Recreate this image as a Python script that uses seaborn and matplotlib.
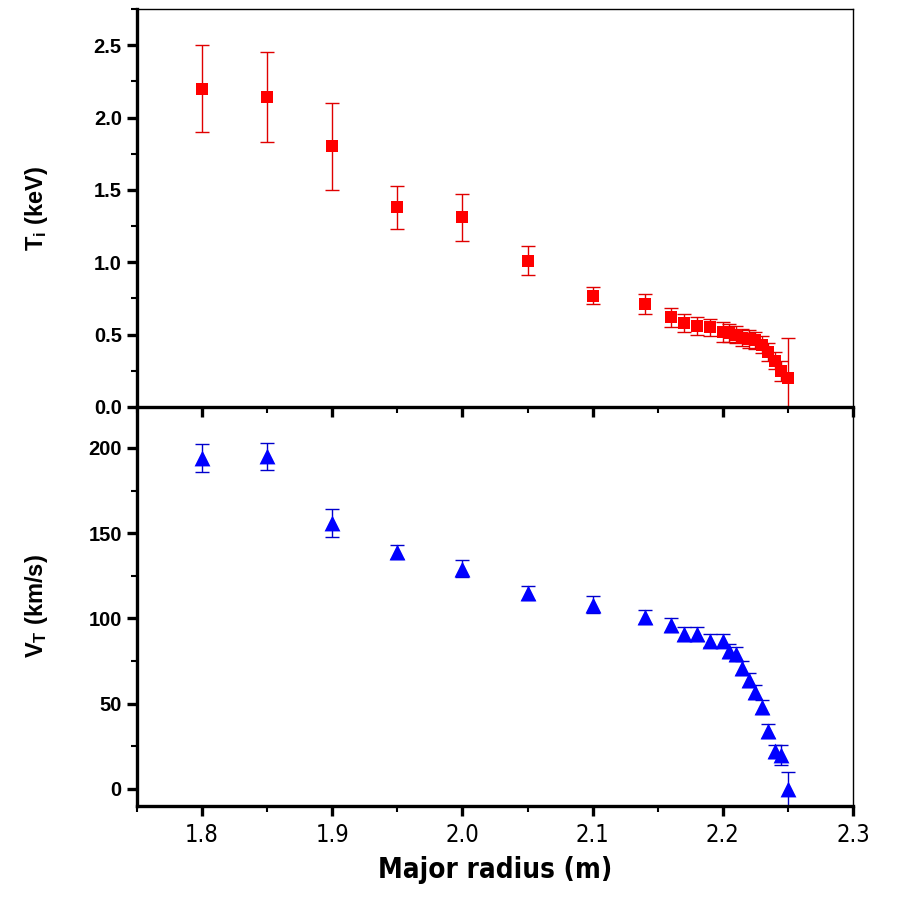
import numpy as np
import matplotlib
matplotlib.use('Agg')
import matplotlib.pyplot as plt
import seaborn as sns
from matplotlib import font_manager
from matplotlib.ticker import MultipleLocator

# major radius positions (m), shared by both panels
radius = [1.80, 1.85, 1.90, 1.95, 2.00, 2.05, 2.10, 2.14, 2.16, 2.17, 2.18, 2.19,
          2.20, 2.205, 2.21, 2.215, 2.22, 2.225, 2.23, 2.235, 2.24, 2.245, 2.25]

# ion temperature (keV) and its error
ti = [2.20, 2.14, 1.80, 1.38, 1.31, 1.01, 0.77, 0.71, 0.62, 0.58, 0.56, 0.55,
      0.52, 0.51, 0.50, 0.48, 0.47, 0.46, 0.43, 0.38, 0.32, 0.25, 0.20]
ti_err = [0.30, 0.31, 0.30, 0.15, 0.16, 0.10, 0.06, 0.07, 0.065, 0.06, 0.06, 0.06,
          0.07, 0.06, 0.06, 0.06, 0.06, 0.06, 0.06, 0.06, 0.06, 0.07, 0.28]

# toroidal velocity (km/s) and its error
vt = [194, 195, 156, 139, 129, 115, 108, 101, 96, 91, 91, 87,
      87, 81, 79, 71, 64, 57, 48, 34, 22, 20, 0]
vt_err = [8, 8, 8, 4, 5, 4, 5, 4, 4, 4, 4, 4,
          4, 4, 4, 4, 4, 4, 4, 4, 4, 6, 10]

sns.set_theme(style='ticks')
plt.rcParams['font.family'] = ['Liberation Sans', 'DejaVu Sans']
plt.rcParams['mathtext.fontset'] = 'custom'
plt.rcParams['mathtext.bf'] = 'Liberation Sans:bold'
plt.rcParams['mathtext.rm'] = 'Liberation Sans'
for key in ('text.color', 'axes.labelcolor', 'xtick.color', 'ytick.color', 'axes.edgecolor'):
    plt.rcParams[key] = 'black'

# narrow font for the x axis, if a condensed face exists
narrow = ['DejaVu Sans']
names = {f.name for f in font_manager.fontManager.ttflist}
for cand in ('Liberation Sans Narrow', 'DejaVu Sans Condensed'):
    if cand in names:
        narrow = [cand, 'DejaVu Sans']
        break

fig = plt.figure(figsize=(8.98, 9.06), dpi=100)
ax1 = fig.add_axes([0.1526, 0.5508, 0.7973, 0.4393])
ax2 = fig.add_axes([0.1526, 0.1104, 0.7973, 0.4404])
ax2.patch.set_alpha(0)

# top: Ti
ax1.errorbar(radius, ti, yerr=ti_err, fmt='none', ecolor='#e00000',
             elinewidth=1.0, capsize=5, capthick=1.0, zorder=2)
sns.scatterplot(x=radius, y=ti, marker='s', s=85, color='#ff0000',
                linewidth=0, ax=ax1, zorder=3)

# bottom: V_T
ax2.errorbar(radius, vt, yerr=vt_err, fmt='none', ecolor='#0000cc',
             elinewidth=1.0, capsize=5, capthick=1.0, zorder=2)
sns.scatterplot(x=radius, y=vt, marker='^', s=130, color='#0000ff',
                linewidth=0, ax=ax2, zorder=3)

for ax in (ax1, ax2):
    ax.set_xlim(1.75, 2.3)
    ax.xaxis.set_major_locator(MultipleLocator(0.1))
    ax.xaxis.set_minor_locator(MultipleLocator(0.05))
    for side in ('left', 'bottom'):
        ax.spines[side].set_linewidth(2.4)
    for side in ('top', 'right'):
        ax.spines[side].set_linewidth(1.0)
    ax.tick_params(axis='both', which='major', direction='out', length=7,
                   width=2.4, color='black')
    ax.tick_params(axis='both', which='minor', direction='out', length=4,
                   width=1.5, color='black')
    ax.tick_params(axis='y', which='both', labelsize=14.5, pad=4)
    ax.yaxis.set_label_coords(-0.122, 0.5)

ax1.set_ylim(0, 2.75)
ax1.yaxis.set_minor_locator(MultipleLocator(0.25))
ax1.set_yticks(np.arange(0, 2.51, 0.5))
ax1.set_yticklabels([f'{v:.1f}' for v in np.arange(0, 2.51, 0.5)], fontweight='bold')
ax1.tick_params(axis='x', which='both', labelbottom=False)
ax1.set_ylabel(r'$\mathbf{T_i}$ (keV)', fontsize=17, fontweight='bold')

ax2.set_ylim(-10, 224)
ax2.set_yticks([0, 50, 100, 150, 200])
ax2.set_yticklabels(['0', '50', '100', '150', '200'], fontweight='bold')
ax2.yaxis.set_minor_locator(MultipleLocator(25))
ax2.set_ylabel(r'$\mathbf{V_T}$ (km/s)', fontsize=17, fontweight='bold')
ax2.set_xticks([1.8, 1.9, 2.0, 2.1, 2.2, 2.3])
ax2.set_xticklabels(['1.8', '1.9', '2.0', '2.1', '2.2', '2.3'],
                    family=narrow, fontstretch='condensed', fontsize=17)
ax2.tick_params(axis='x', which='major', pad=5)
ax2.set_xlabel('Major radius (m)', family=narrow, fontstretch='condensed',
               fontsize=20, fontweight='bold', labelpad=7)

fig.savefig('out.png', dpi=100)
